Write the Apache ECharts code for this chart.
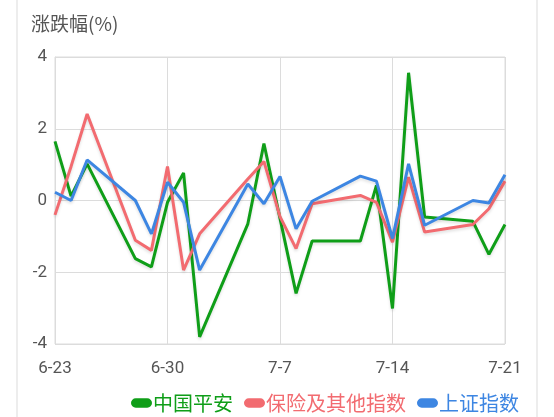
<!DOCTYPE html>
<html>
<head>
<meta charset="utf-8">
<script src="https://cdn.jsdelivr.net/npm/echarts@6/dist/echarts.min.js"></script>
<style>
html,body{margin:0;padding:0;background:#fff;}
#main{width:554px;height:417px;}
</style>
</head>
<body>
<div id="main"></div>
<script>
const year = 2021;
const dates = ['6-23','6-24','6-25','6-28','6-29','6-30','7-1','7-2','7-5','7-6','7-7','7-8','7-9','7-12','7-13','7-14','7-15','7-16','7-19','7-20','7-21'];
const pingan = [1.65, 0.12, 1.02, -1.62, -1.85, -0.05, 0.77, -3.8, -0.65, 1.59, -0.5, -2.59, -1.13, -1.13, 0.42, -3.01, 3.56, -0.46, -0.58, -1.5, -0.67];
const insurance = [-0.4, 0.95, 2.41, -1.11, -1.39, 0.95, -1.94, -0.93, 0.6, 1.09, -0.45, -1.34, -0.09, 0.14, -0.05, -1.16, 0.65, -0.88, -0.67, -0.23, 0.54];
const shanghai = [0.23, 0.0, 1.13, 0.0, -0.93, 0.51, -0.05, -1.94, 0.46, -0.09, 0.67, -0.79, -0.02, 0.68, 0.54, -1.06, 1.02, -0.69, 0.0, -0.07, 0.72];
const seriesNames = ['中国平安', '保险及其他指数', '上证指数'];
const colors = ['#0f9e18', '#f26b70', '#3d86e2'];
const yTicks = [-4, -2, 0, 2, 4];

const DAY = 86400000;
function toDate(s){ const p = s.split('-'); return Date.UTC(year, +p[0]-1, +p[1]); }
const base = toDate(dates[0]);
function dayIndex(s){ return Math.round((toDate(s) - base) / DAY); }
function fmt(d){ const t = new Date(base + d*DAY); return (t.getUTCMonth()+1) + '-' + t.getUTCDate(); }
const xs = dates.map(dayIndex);
const xMax = xs[xs.length-1];

function mk(vals){ return vals.map((v,i)=>[xs[i], v]); }
const allData = [pingan, insurance, shanghai];
const cjk = '"Noto Sans CJK SC", sans-serif';

const chart = echarts.init(document.getElementById('main'));
chart.setOption({
  animation: false,
  textStyle: { fontFamily: 'Roboto, "Noto Sans CJK SC", sans-serif' },
  title: {
    text: '涨跌幅(%)', left: 31, top: 14, padding: 0,
    textStyle: { fontSize: 19, fontWeight: 'normal', color: '#555', fontFamily: cjk }
  },
  graphic: [{
    type: 'rect', silent: true, z: -1,
    shape: { x: 17, y: -5, width: 520, height: 430 },
    style: { fill: 'none', stroke: '#e8e8e8', lineWidth: 1.5 }
  }],
  legend: {
    data: seriesNames, left: 131, top: 393, padding: 0,
    icon: 'path://M5,0 L17,0 A5,5 0 0 1 17,10 L5,10 A5,5 0 0 1 5,0 Z',
    itemWidth: 21, itemHeight: 10, itemGap: 11,
    formatter: n => '{' + ['a','b','c'][seriesNames.indexOf(n)] + '|' + n + '}',
    textStyle: {
      fontSize: 20, fontFamily: cjk, padding: [0,0,0,-4],
      rich: {
        a: { color: colors[0], fontSize: 20, fontFamily: cjk },
        b: { color: colors[1], fontSize: 20, fontFamily: cjk },
        c: { color: colors[2], fontSize: 20, fontFamily: cjk }
      }
    }
  },
  grid: { left: 55, right: 49, top: 57, bottom: 73, show: true, borderColor: '#dcdcdc', borderWidth: 1 },
  xAxis: {
    type: 'value', min: 0, max: xMax, interval: 7,
    axisLine: { show: true, lineStyle: { color: '#dcdcdc' } },
    axisTick: { show: false },
    axisLabel: { formatter: v => fmt(v), fontSize: 17, color: '#555', margin: 16 },
    splitLine: { show: true, lineStyle: { color: '#dcdcdc' } }
  },
  yAxis: {
    type: 'value', min: yTicks[0], max: yTicks[yTicks.length-1], interval: 2,
    axisLine: { show: true, lineStyle: { color: '#dcdcdc' } },
    axisTick: { show: false },
    axisLabel: { fontSize: 17, color: '#555', margin: 8 },
    splitLine: { show: true, lineStyle: { color: '#dcdcdc' } }
  },
  series: seriesNames.map((n, i) => ({
    name: n, type: 'line', data: mk(allData[i]),
    showSymbol: false, symbol: 'none',
    itemStyle: { color: colors[i] },
    lineStyle: { width: 3, color: colors[i], shadowColor: 'rgba(0,0,0,0.12)', shadowBlur: 3, shadowOffsetY: 2 }
  }))
});
</script>
</body>
</html>
